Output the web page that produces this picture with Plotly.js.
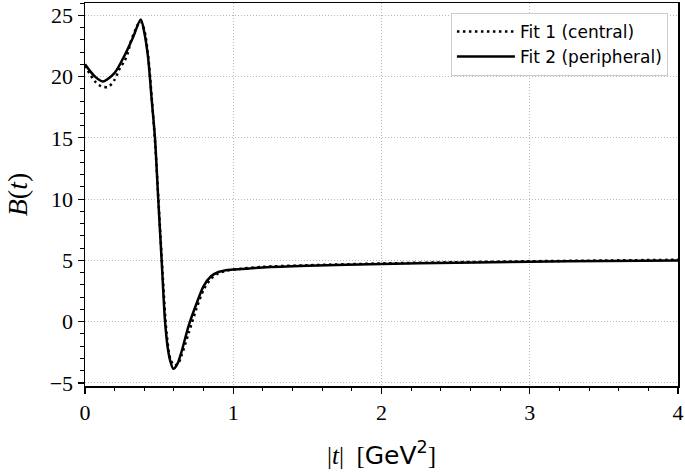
<!DOCTYPE html>
<html>
<head>
<meta charset="utf-8">
<script src="https://cdn.plot.ly/plotly-3.0.1.min.js"></script>
<style>
  html, body { margin: 0; padding: 0; background: #fff; }
  #plot { width: 685px; height: 472px; }
</style>
</head>
<body>
<div id="plot"></div>
<script>
// |t| values and B(t)
var t_fit1 = [0, 0.067, 0.11, 0.157, 0.2, 0.236, 0.266, 0.288, 0.31, 0.333, 0.35, 0.375,
  0.4, 0.425, 0.45, 0.475, 0.5, 0.525, 0.55, 0.575, 0.6, 0.625, 0.65, 0.7, 0.75, 0.8,
  0.85, 0.9, 0.95, 1.0, 1.2, 1.5, 2, 2.5, 3, 3.5, 4];
var b_fit1 = [20.9, 19.6, 19.2, 19.15, 19.75, 20.7, 21.25, 21.9, 22.9, 23.6, 24.1, 24.5,
  23.8, 21.8, 18.3, 14.2, 8.9, 3.6, -0.9, -3.0, -3.55, -3.5, -2.8, -0.9, 1.0, 2.6,
  3.5, 3.95, 4.15, 4.25, 4.47, 4.6, 4.75, 4.85, 4.93, 4.99, 5.05];

var t_fit2 = [0, 0.067, 0.12, 0.2, 0.27, 0.324, 0.376, 0.4, 0.425, 0.45, 0.472, 0.494,
  0.517, 0.54, 0.56, 0.575, 0.596, 0.625, 0.65, 0.7, 0.75, 0.8, 0.85, 0.9, 0.95, 1.0,
  1.2, 1.5, 2, 2.5, 3, 3.5, 4];
var b_fit2 = [21.0, 20.0, 19.6, 20.3, 21.8, 23.2, 24.65, 23.6, 21.6, 18.1, 15.0, 10.0,
  5.0, 0.0, -2.3, -3.2, -3.85, -3.4, -2.5, -0.3, 1.4, 2.9, 3.7, 4.05, 4.2, 4.25,
  4.42, 4.56, 4.71, 4.81, 4.89, 4.95, 5.0];

var fit1 = {
  x: t_fit1,
  y: b_fit1,
  name: 'Fit 1 (central)',
  mode: 'lines',
  line: {color: '#000000', width: 2.5, dash: '2.5px,3.5px', shape: 'spline', smoothing: 0.8}
};

var fit2 = {
  x: t_fit2,
  y: b_fit2,
  name: 'Fit 2 (peripheral)',
  mode: 'lines',
  line: {color: '#000000', width: 2.5, shape: 'spline', smoothing: 0.8}
};

var serif = 'Liberation Serif, serif';

var layout = {
  width: 685,
  height: 472,
  margin: {l: 85, r: 7, t: 3, b: 86},
  paper_bgcolor: '#ffffff',
  plot_bgcolor: '#ffffff',
  showlegend: true,
  legend: {
    x: 0.983, y: 0.974, xanchor: 'right', yanchor: 'top',
    bgcolor: 'rgba(255,255,255,0.85)',
    bordercolor: '#cccccc', borderwidth: 1,
    font: {family: 'DejaVu Sans, sans-serif', size: 17, color: '#000'},
    itemwidth: 58,
    tracegroupgap: 4
  },
  xaxis: {
    range: [0, 4],
    tick0: 0,
    dtick: 1,
    showline: true, mirror: true, linecolor: '#000', linewidth: 1.5,
    ticks: 'outside', ticklen: 6, tickwidth: 1.2, tickcolor: '#000',
    minor: {tick0: 0, dtick: 0.2, ticks: 'outside', ticklen: 3.5, tickwidth: 1, tickcolor: '#000', showgrid: false},
    showgrid: true, gridcolor: '#b8b8b8', griddash: '1px,2px', gridwidth: 1,
    zeroline: false,
    tickfont: {family: serif, size: 22, color: '#000'},
    title: {
      text: '|<i>t</i>|  [<span style="font-family:DejaVu Sans, sans-serif">GeV<sup>2</sup></span>]',
      font: {family: serif, size: 25, color: '#000'},
      standoff: 22
    }
  },
  yaxis: {
    range: [-5.25, 26.0],
    tick0: 0,
    dtick: 5,
    showline: true, mirror: true, linecolor: '#000', linewidth: 1.5,
    ticks: 'outside', ticklen: 6, tickwidth: 1.2, tickcolor: '#000',
    minor: {tick0: 0, dtick: 1, ticks: 'outside', ticklen: 3.5, tickwidth: 1, tickcolor: '#000', showgrid: false},
    showgrid: true, gridcolor: '#b8b8b8', griddash: '1px,2px', gridwidth: 1,
    zeroline: false,
    tickfont: {family: serif, size: 22, color: '#000'},
    title: {
      text: '<i>B</i>(<i>t</i>)',
      font: {family: serif, size: 28, color: '#000'},
      standoff: 14
    }
  }
};

Plotly.newPlot('plot', [fit1, fit2], layout, {displayModeBar: false, staticPlot: true});
</script>
</body>
</html>
